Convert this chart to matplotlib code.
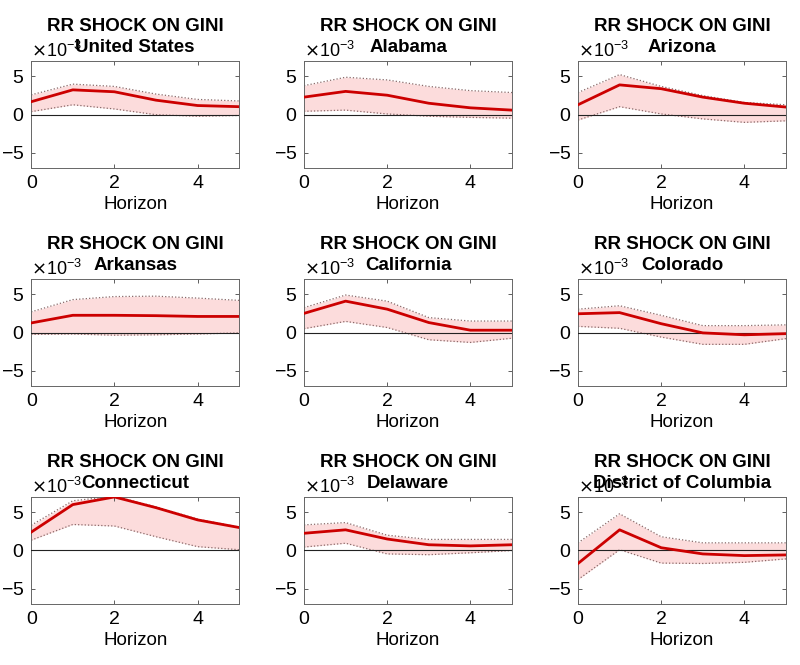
import numpy as np
import matplotlib
matplotlib.use("Agg")
import matplotlib.pyplot as plt
from matplotlib.transforms import offset_copy

plt.rcParams['font.family'] = ['Liberation Sans', 'DejaVu Sans']
plt.rcParams['axes.unicode_minus'] = False

# Impulse responses (values in units of 1e-3), horizons 0..5
horizon = np.arange(6)
regions = ["United States", "Alabama", "Arizona",
           "Arkansas", "California", "Colorado",
           "Connecticut", "Delaware", "District of Columbia"]

irf_mean = [
    [1.7, 3.25, 3.0, 1.9, 1.2, 1.05],
    [2.3, 3.05, 2.55, 1.5, 0.9, 0.6],
    [1.3, 3.9, 3.4, 2.3, 1.5, 1.0],
    [1.25, 2.25, 2.25, 2.2, 2.1, 2.1],
    [2.5, 4.1, 3.05, 1.3, 0.3, 0.3],
    [2.45, 2.6, 1.15, -0.05, -0.3, -0.15],
    [2.4, 6.0, 7.0, 5.6, 4.0, 3.0],
    [2.25, 2.7, 1.5, 0.75, 0.6, 0.75],
    [-1.7, 2.7, 0.36, -0.45, -0.67, -0.58],
]
irf_upper = [
    [2.6, 4.0, 3.7, 2.7, 2.0, 1.8],
    [3.8, 4.9, 4.55, 3.7, 3.15, 2.9],
    [2.9, 5.25, 3.7, 2.5, 1.6, 1.3],
    [2.7, 4.3, 4.7, 4.75, 4.5, 4.2],
    [3.25, 4.9, 4.1, 1.95, 1.5, 1.5],
    [3.05, 3.5, 2.25, 0.9, 0.9, 1.0],
    [3.3, 6.5, 7.1, 5.7, 4.1, 3.05],
    [3.35, 3.65, 2.0, 1.45, 1.45, 1.45],
    [1.0, 4.8, 1.8, 1.0, 1.0, 1.0],
]
irf_lower = [
    [0.4, 1.3, 0.75, 0.0, -0.2, -0.1],
    [0.45, 0.6, 0.1, -0.2, -0.35, -0.45],
    [-0.7, 1.05, 0.1, -0.55, -1.0, -0.8],
    [-0.25, -0.2, -0.35, -0.3, -0.2, -0.05],
    [0.5, 1.45, 0.65, -0.95, -1.3, -0.75],
    [0.8, 0.55, -0.6, -1.55, -1.55, -0.8],
    [1.35, 3.4, 3.2, 1.8, 0.5, 0.1],
    [0.45, 0.95, -0.45, -0.55, -0.3, 0.0],
    [-3.8, 0.1, -1.65, -1.7, -1.55, -1.1],
]

fig = plt.figure(figsize=(8, 6.65), dpi=100)

col_left = [0.039, 0.380, 0.7225]
row_bottom = [0.747, 0.4195, 0.0917]
w, h = 0.26, 0.161

for k, name in enumerate(regions):
    r, c = divmod(k, 3)
    ax = fig.add_axes([col_left[c], row_bottom[r], w, h])
    mean = np.array(irf_mean[k]) * 1e-3
    up = np.array(irf_upper[k]) * 1e-3
    lo = np.array(irf_lower[k]) * 1e-3

    ax.fill_between(horizon, lo, up, color='#fcdcdc', lw=0, zorder=1)
    ax.plot(horizon, up, ls=':', color='#8a6a6a', lw=0.9, zorder=2)
    ax.plot(horizon, lo, ls=':', color='#8a6a6a', lw=0.9, zorder=2)
    ax.axhline(0, color='#222222', lw=0.8, zorder=3)
    ax.plot(horizon, mean, color='#cc0000', lw=2.0, zorder=4)

    ax.set_xlim(0, 5)
    ax.set_ylim(-7e-3, 7e-3)
    ax.set_xticks([0, 2, 4])
    ax.set_yticks([-5e-3, 0, 5e-3])
    ax.ticklabel_format(axis='y', style='sci', scilimits=(-3, -3), useMathText=True)
    ax.yaxis.get_offset_text().set_fontsize(13)
    ax.tick_params(direction='in', length=3, width=0.6, top=True, right=True,
                   labelsize=14, color='#444444', pad=5)
    for sp in ax.spines.values():
        sp.set_color('#666666')
        sp.set_linewidth(0.7)
    ax.set_xlabel("Horizon", fontsize=13.5, labelpad=3)

    tr = offset_copy(ax.transAxes, fig=fig, y=3.5, units='points')
    ax.text(0.5, 1.0, "RR SHOCK ON GINI\n" + name, transform=tr,
            ha='center', va='bottom', fontsize=13.5, fontweight='bold',
            linespacing=1.3)

fig.savefig("out.png", dpi=100)
